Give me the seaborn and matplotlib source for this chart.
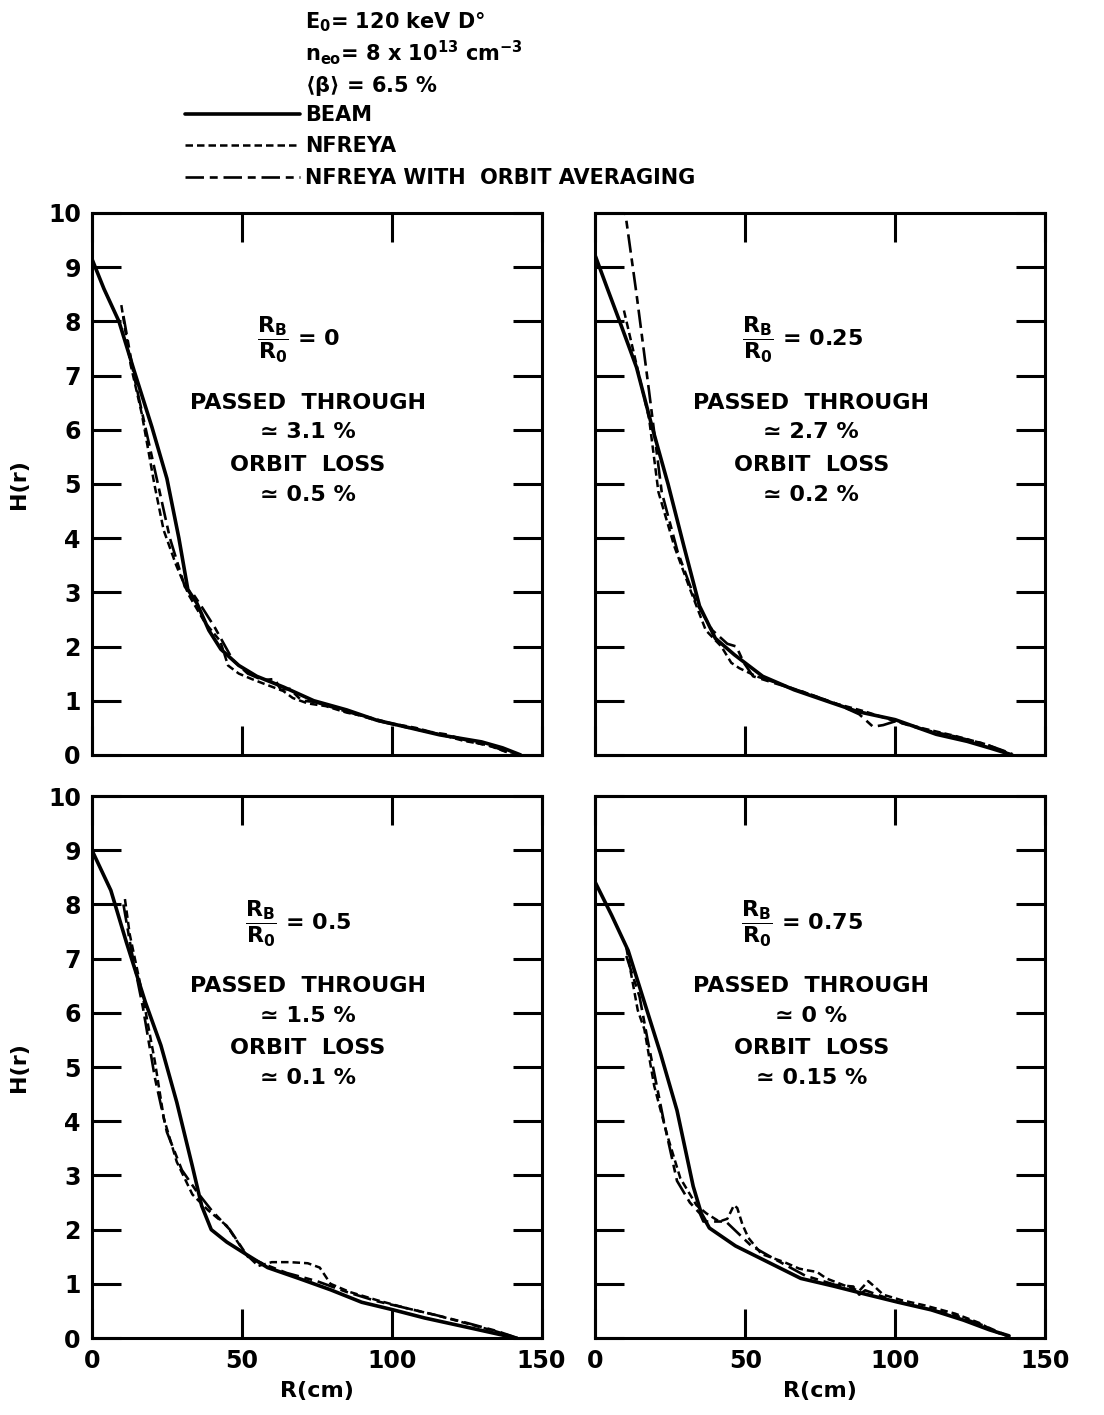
import matplotlib
matplotlib.use("Agg")
import matplotlib.pyplot as plt
import seaborn as sns
import pandas as pd

sns.set_style("ticks")
plt.rcParams['font.family'] = ['DejaVu Sans']
plt.rcParams['font.weight'] = 'bold'
plt.rcParams['mathtext.default'] = 'bf'
plt.rcParams['mathtext.fontset'] = 'dejavusans'
for key in ['text.color', 'axes.labelcolor', 'xtick.color', 'ytick.color', 'axes.edgecolor']:
    plt.rcParams[key] = 'black'

# ---- data (R in cm, H(r)) ----
tl_beam_r = [0, 4, 9, 14, 20, 25, 29, 32, 35, 39, 43, 49, 55, 64, 74, 85, 95, 106, 116, 130, 137, 143]
tl_beam_h = [9.15, 8.6, 8.0, 7.1, 6.05, 5.1, 4.0, 3.05, 2.8, 2.3, 1.95, 1.65, 1.45, 1.25, 1.0, 0.83, 0.64, 0.5, 0.37, 0.24, 0.13, 0.0]
tl_nfreya_r = [9.8, 12.9, 16.6, 20.8, 23.9, 28.1, 32.3, 37.6, 42.8, 45.4, 49, 53.3, 58, 63.8, 67, 72, 78, 85, 92, 100, 108, 116, 124, 132, 140]
tl_nfreya_h = [8.3, 7.2, 6.3, 5.0, 4.15, 3.5, 2.95, 2.45, 2.1, 1.65, 1.5, 1.4, 1.3, 1.18, 1.05, 0.95, 0.9, 0.78, 0.7, 0.58, 0.5, 0.38, 0.26, 0.18, 0.02]
tl_orbit_r = [10.5, 14, 18, 22, 26, 31, 34, 37, 41, 44, 47, 52, 57, 61, 63, 66, 70, 74, 80, 88, 96, 104, 110, 118, 126, 134, 141]
tl_orbit_h = [8.1, 7.0, 6.0, 5.0, 4.0, 3.1, 2.95, 2.7, 2.35, 2.05, 1.75, 1.5, 1.38, 1.4, 1.2, 1.22, 1.0, 0.98, 0.88, 0.75, 0.62, 0.52, 0.45, 0.38, 0.25, 0.15, 0.0]

tr_beam_r = [0, 4, 8.4, 13.7, 18.9, 24.2, 29.5, 34.7, 40, 46.3, 55.8, 66.3, 76.8, 87.4, 100, 113.7, 124, 132, 139]
tr_beam_h = [9.2, 8.6, 7.95, 7.15, 6.05, 5.0, 3.85, 2.75, 2.15, 1.85, 1.45, 1.2, 1.0, 0.8, 0.65, 0.38, 0.25, 0.12, 0.0]
tr_nfreya_r = [9.5, 13.7, 17.9, 21, 26.3, 31.6, 36.8, 42, 45.3, 48, 53.7, 62, 70, 80, 90, 100, 110, 120, 130, 138]
tr_nfreya_h = [8.2, 7.2, 6.2, 4.85, 3.85, 3.05, 2.3, 2.0, 1.7, 1.6, 1.45, 1.3, 1.15, 0.95, 0.8, 0.62, 0.48, 0.35, 0.2, 0.03]
tr_orbit_r = [9.2, 13.7, 17.9, 22.1, 27.4, 33.7, 39, 44, 47, 49.5, 52.6, 60, 70, 80, 88, 92.6, 96, 100, 110, 120, 130, 139]
tr_orbit_h = [10.3, 8.5, 6.7, 4.85, 3.75, 2.8, 2.3, 2.05, 2.0, 1.7, 1.45, 1.32, 1.15, 0.95, 0.75, 0.52, 0.55, 0.62, 0.46, 0.34, 0.2, 0.02]

bl_beam_r = [0, 6.3, 11.5, 17.8, 23, 28.3, 33.5, 36.6, 39.8, 45, 51.3, 58.6, 69, 79.6, 90, 100.5, 111, 126.7, 141.4]
bl_beam_h = [9.0, 8.26, 7.3, 6.2, 5.4, 4.35, 3.17, 2.44, 2.0, 1.77, 1.55, 1.3, 1.1, 0.89, 0.66, 0.52, 0.37, 0.18, 0.0]
bl_nfreya_r = [11, 12.6, 16.8, 21, 24, 28.3, 33.5, 38.7, 45, 51.3, 55.5, 60, 66, 72, 76, 79.6, 86, 95, 105, 115, 125, 135, 142]
bl_nfreya_h = [8.1, 7.45, 6.35, 5.1, 4.05, 3.25, 2.65, 2.36, 2.07, 1.55, 1.33, 1.4, 1.4, 1.38, 1.3, 1.0, 0.85, 0.7, 0.55, 0.42, 0.27, 0.12, 0.0]
bl_orbit_r = [10.5, 13, 17, 21, 25, 30, 35, 40, 46, 52, 58, 65, 75, 85, 95, 105, 115, 125, 135, 142]
bl_orbit_h = [8.0, 7.2, 6.1, 4.8, 3.8, 3.1, 2.7, 2.35, 2.0, 1.5, 1.35, 1.2, 1.05, 0.85, 0.68, 0.55, 0.42, 0.28, 0.13, 0.0]

br_beam_r = [0, 5.4, 10.9, 16.3, 21.7, 27.2, 32.6, 35.3, 38, 46.7, 57.6, 68.5, 79.3, 90, 101, 112, 122.8, 131.5, 138]
br_beam_h = [8.4, 7.8, 7.15, 6.2, 5.25, 4.2, 2.8, 2.3, 2.03, 1.7, 1.4, 1.1, 0.96, 0.81, 0.66, 0.52, 0.33, 0.15, 0.04]
br_nfreya_r = [10.3, 14.1, 16.3, 19.6, 23.9, 28.3, 33.7, 37, 41.3, 44, 46.2, 47.3, 49, 51, 55.4, 63, 68, 70.6, 73.9, 77, 84, 88, 91, 93.5, 96, 102, 110, 120, 128, 134, 138]
br_nfreya_h = [7.2, 6.05, 5.7, 4.65, 3.75, 2.95, 2.45, 2.3, 2.15, 2.2, 2.45, 2.4, 2.1, 1.85, 1.55, 1.4, 1.28, 1.25, 1.22, 1.1, 0.95, 0.87, 1.05, 0.93, 0.8, 0.7, 0.6, 0.45, 0.28, 0.1, 0.03]
br_orbit_r = [10.3, 14.7, 17.4, 22.8, 27.2, 31.5, 34.8, 36, 40, 43.5, 52, 60, 70, 80, 86, 88, 90, 100, 110, 120, 130, 137]
br_orbit_h = [7.05, 6.3, 5.5, 4.0, 2.9, 2.5, 2.3, 2.15, 2.15, 2.15, 1.7, 1.45, 1.15, 0.98, 0.95, 0.8, 0.88, 0.68, 0.55, 0.42, 0.22, 0.05]

ratio_labels = ['0', '0.25', '0.5', '0.75']
passed_labels = ['\u2243 3.1 %', '\u2243 2.7 %', '\u2243 1.5 %', '\u2243 0 %']
loss_labels = ['\u2243 0.5 %', '\u2243 0.2 %', '\u2243 0.1 %', '\u2243 0.15 %']

series_names = ['BEAM', 'NFREYA', 'NFREYA WITH  ORBIT AVERAGING']
panels = [
    [(tl_beam_r, tl_beam_h), (tl_nfreya_r, tl_nfreya_h), (tl_orbit_r, tl_orbit_h)],
    [(tr_beam_r, tr_beam_h), (tr_nfreya_r, tr_nfreya_h), (tr_orbit_r, tr_orbit_h)],
    [(bl_beam_r, bl_beam_h), (bl_nfreya_r, bl_nfreya_h), (bl_orbit_r, bl_orbit_h)],
    [(br_beam_r, br_beam_h), (br_nfreya_r, br_nfreya_h), (br_orbit_r, br_orbit_h)],
]

line_styles = [
    dict(linestyle='-', linewidth=2.6),
    dict(linestyle=(0, (3, 1.6)), linewidth=1.8),
    dict(linestyle=(0, (7, 2.2, 3, 2.2)), linewidth=1.9),
]

fig, axes = plt.subplots(2, 2, figsize=(11.04, 14.15), dpi=100, sharex=True, sharey=True)
plt.subplots_adjust(left=0.0833, right=0.9466, top=0.8495, bottom=0.0544, wspace=0.12, hspace=0.076)

for i, ax in enumerate(axes.flat):
    for (r, h), name, st in zip(panels[i], series_names, line_styles):
        sns.lineplot(x=r, y=h, ax=ax, color='black', sort=False, label=name, **st)
    if ax.get_legend() is not None:
        ax.get_legend().remove()
    ax.set_xlim(0, 150)
    ax.set_ylim(0, 10)
    ax.set_xticks([0, 50, 100, 150])
    ax.set_yticks(range(0, 11))
    ax.tick_params(direction='in', length=21, width=2.2, top=True, right=True,
                   labelsize=17, pad=8)
    for sp in ax.spines.values():
        sp.set_linewidth(2.2)
        sp.set_visible(True)
    for lab in ax.get_xticklabels() + ax.get_yticklabels():
        lab.set_fontweight('bold')

    cx = 72
    ax.text(cx - 3, 7.65, r'$\dfrac{R_B}{R_0}$' + ' = ' + ratio_labels[i], fontsize=16,
            ha='center', va='center')
    ax.text(cx, 6.5, 'PASSED  THROUGH', fontsize=16, ha='center', va='center')
    ax.text(cx, 5.95, passed_labels[i], fontsize=16, ha='center', va='center')
    ax.text(cx, 5.35, 'ORBIT  LOSS', fontsize=16, ha='center', va='center')
    ax.text(cx, 4.8, loss_labels[i], fontsize=16, ha='center', va='center')

for ax in axes[:, 0]:
    ax.set_ylabel('H(r)', fontsize=16, fontweight='bold', labelpad=14)
for ax in axes[1, :]:
    ax.set_xlabel('R(cm)', fontsize=16, fontweight='bold', labelpad=6)
for ax in axes[0, :]:
    ax.set_xlabel('')
for ax in axes[:, 1]:
    ax.set_ylabel('')

# header text and legend
hx = 305 / 1104
fig.text(hx, 1 - 22 / 1415, 'E$_0$= 120 keV D\u00b0', fontsize=15, va='center', ha='left')
fig.text(hx, 1 - 53 / 1415, 'n$_{eo}$= 8 x 10$^{13}$ cm$^{-3}$', fontsize=15, va='center', ha='left')
fig.text(hx, 1 - 86 / 1415, r'$\langle\beta\rangle$ = 6.5 %', fontsize=15, va='center', ha='left')

handles, labels = axes[0, 0].get_legend_handles_labels()
fig.legend(handles, labels, loc='upper left', bbox_to_anchor=(185 / 1104, 1 - 105 / 1415),
           frameon=False, handlelength=5.5, handletextpad=0.25,
           labelspacing=0.55, borderpad=0, borderaxespad=0,
           prop={'weight': 'bold', 'size': 15})

fig.savefig('out.png', dpi=100, facecolor='white')
